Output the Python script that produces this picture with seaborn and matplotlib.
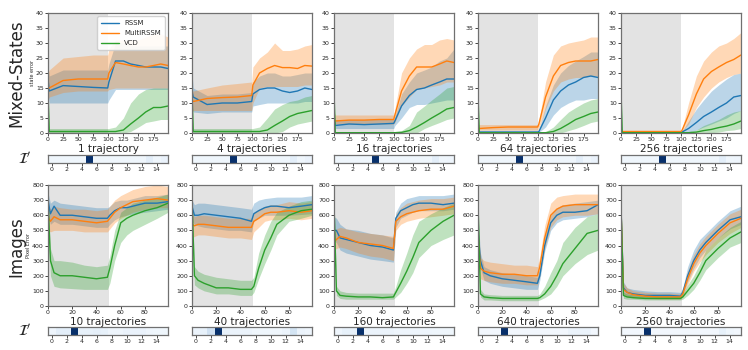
import numpy as np
import pandas as pd
import seaborn as sns
import matplotlib.pyplot as plt
from matplotlib.lines import Line2D

# ---- data ----
models = ['RSSM', 'MultiRSSM', 'VCD']
colors = ['#1f77b4', '#ff7f0e', '#2ca02c']

top_titles = ['1 trajectory', '4 trajectories', '16 trajectories', '64 trajectories', '256 trajectories']
bot_titles = ['10 trajectories', '40 trajectories', '160 trajectories', '640 trajectories', '2560 trajectories']

xs_top = [0, 2, 25, 50, 75, 99, 101, 112, 125, 137, 150, 162, 175, 187, 199]
xs_bot = [0, 2, 5, 10, 20, 30, 40, 49, 51, 55, 60, 65, 70, 80, 90, 99]

# Mixed-States (state error), one list per panel
ms_rssm = [
    [18, 14, 15.8, 15.5, 15.2, 15, 17, 24, 24, 23, 22.5, 22, 22, 22, 21.5],
    [14, 12, 9.5, 10, 10, 10.5, 13, 14.5, 15, 15, 14, 13.5, 14, 15, 14.5],
    [5, 2.5, 3, 2.8, 3, 3.2, 4, 9, 12.5, 14.5, 15, 16, 17, 18, 18],
    [1, 0.3, 0.3, 0.3, 0.3, 0.3, 0.5, 5, 11, 14, 16, 17, 18.5, 19, 18.5],
    [0.5, 0.3, 0.3, 0.3, 0.3, 0.3, 0.3, 1.5, 3.5, 5.5, 7, 8.5, 10, 12, 12.5],
]
ms_rssm_lo = [
    [13, 10, 10, 10, 10, 10, 11, 14.5, 14.5, 14.5, 14.5, 14.5, 14.5, 14.5, 14.5],
    [8, 7, 6.5, 7, 7, 7, 9, 9.5, 10, 10, 10, 10, 10, 10.5, 10.5],
    [3, 1.5, 1.5, 1.5, 1.5, 1.5, 2.5, 5, 8.5, 9.5, 9.5, 10, 10.5, 11, 11],
    [0.2, 0.1, 0.1, 0.1, 0.1, 0.1, 0.2, 2, 6, 8.5, 10, 11, 11, 11.5, 11.5],
    [0, 0.1, 0.1, 0.1, 0.1, 0.1, 0.1, 0.3, 1, 2, 3, 4, 5, 6.5, 7.5],
]
ms_rssm_hi = [
    [22, 19, 21, 21, 21, 21, 23, 30, 30, 29, 29, 29, 29, 29, 29],
    [20, 15, 12.5, 13, 13, 13.5, 17, 19, 20, 20, 19, 19, 19.5, 20, 20],
    [8, 4.5, 4.5, 4.5, 4.5, 4.5, 5.5, 13, 17, 20, 21, 22, 24, 25, 28],
    [2, 0.8, 0.8, 0.8, 0.8, 0.8, 1, 9, 16, 20, 22.5, 24, 25.5, 27, 27],
    [1, 0.5, 0.5, 0.5, 0.5, 0.5, 0.5, 4, 8, 11, 14, 16, 18, 19.5, 20],
]
ms_multi = [
    [15, 15, 17.5, 18, 18, 18, 20, 23.5, 23, 22.5, 22, 22, 22.5, 23, 22.5],
    [11, 10.5, 11.5, 11.8, 12, 12.5, 16, 20, 21.5, 22.5, 21.8, 21.8, 21.5, 22.5, 22.3],
    [5, 4, 4.3, 4.3, 4.5, 4.5, 6, 14, 19, 22, 22, 22, 23, 24, 23.5],
    [2, 1.5, 1.8, 2, 2, 2, 3, 12, 19, 22.5, 23.5, 24, 24, 24, 24.5],
    [0.5, 0.5, 0.5, 0.5, 0.5, 0.5, 0.8, 6, 13, 18, 20.5, 22, 23.5, 24.5, 26],
]
ms_multi_lo = [
    [11, 12, 13.5, 14, 14, 14, 14.5, 15, 15, 15, 15, 15, 15, 15, 15],
    [7, 7.5, 7.5, 7.5, 7.5, 7.5, 10, 15, 15.5, 15.5, 15.5, 15.5, 15.5, 16, 16],
    [3, 3, 3, 3, 3, 3, 3.5, 9, 12, 14.5, 15, 15.5, 16, 17, 17],
    [1, 1, 1, 1, 1, 1, 1.5, 8, 14, 17, 18, 18.5, 18.5, 19, 19],
    [0.2, 0.3, 0.3, 0.3, 0.3, 0.3, 0.4, 3, 8.5, 12, 15, 17, 18.5, 19.5, 20],
]
ms_multi_hi = [
    [20, 21, 25, 25.5, 26, 26, 28, 31, 31, 31, 31, 32, 33, 33, 32],
    [14, 14, 15, 16, 16.5, 17, 22, 25, 27, 30, 27.5, 27.5, 28, 29, 29.5],
    [7, 6, 6, 6, 6, 6, 8, 20, 25, 28, 29.5, 29.5, 31, 31.5, 31],
    [3, 2.8, 2.8, 2.8, 2.8, 2.8, 4, 17, 26, 29, 30, 30.5, 31, 32, 32],
    [1, 0.8, 0.8, 0.8, 0.8, 0.8, 1.2, 10, 19, 24, 27, 29, 30, 31.5, 33.5],
]
ms_vcd = [
    [14, 0.5, 0.5, 0.5, 0.5, 0.5, 0.5, 0.5, 1, 3, 5, 7, 8.5, 8.5, 9],
    [13, 0.5, 0.5, 0.5, 0.5, 0.5, 0.5, 0.5, 1, 2.5, 4, 5.5, 6.5, 7, 7.5],
    [14, 0.1, 0.1, 0.1, 0.1, 0.1, 0.1, 0.2, 0.8, 2, 3.5, 5, 6.5, 8, 8.5],
    [13, 0.1, 0.1, 0.1, 0.1, 0.1, 0.1, 0.1, 0.5, 1.5, 3, 4.5, 5.5, 6.5, 7],
    [14, 0.1, 0.1, 0.1, 0.1, 0.1, 0.1, 0.1, 0.3, 0.8, 1.2, 1.8, 2.3, 3, 4],
]
ms_vcd_lo = [
    [0, 0, 0, 0, 0, 0, 0, 0, 0, 0.5, 2, 3.5, 4, 4.5, 4.5],
    [0, 0, 0, 0, 0, 0, 0, 0, 0, 0, 0.5, 2, 3, 3.5, 4],
    [0, 0, 0, 0, 0, 0, 0, 0, 0, 0, 1.5, 2.5, 3.5, 4.5, 5],
    [0, 0, 0, 0, 0, 0, 0, 0, 0, 0, 0.8, 1.5, 2.5, 3.5, 4],
    [0, 0, 0, 0, 0, 0, 0, 0, 0, 0, 0.1, 0.3, 0.8, 1, 1.5],
]
ms_vcd_hi = [
    [14, 1.5, 1.5, 1.5, 1.5, 1.5, 1.5, 2, 5, 10, 13, 14.5, 15, 15, 15],
    [13, 1.5, 1.5, 1.5, 1.5, 1.5, 1.5, 2, 5, 8, 9.5, 10.5, 11, 12, 12.5],
    [14, 0.5, 0.5, 0.5, 0.5, 0.5, 0.5, 0.8, 2.5, 7, 9, 11, 13, 15, 15.5],
    [13, 0.3, 0.3, 0.3, 0.3, 0.3, 0.3, 0.4, 2, 4.5, 7, 8.5, 10, 11, 11.5],
    [14, 0.3, 0.3, 0.3, 0.3, 0.3, 0.3, 0.5, 1, 2.5, 3.5, 4.5, 6, 7, 7.5],
]

# Images (pixel error)
im_rssm = [
    [700, 610, 660, 600, 600, 590, 580, 580, 600, 630, 650, 650, 660, 680, 680, 690],
    [660, 600, 600, 610, 600, 590, 580, 560, 610, 630, 650, 660, 660, 650, 660, 670],
    [500, 500, 450, 440, 420, 400, 390, 370, 580, 630, 650, 670, 680, 680, 670, 680],
    [500, 300, 220, 200, 180, 170, 160, 150, 200, 400, 550, 600, 620, 620, 630, 670],
    [650, 120, 90, 80, 70, 70, 70, 65, 90, 200, 300, 370, 420, 500, 570, 590],
]
im_rssm_lo = [
    [600, 540, 560, 540, 540, 530, 520, 520, 540, 570, 590, 600, 610, 620, 630, 640],
    [560, 540, 530, 520, 510, 500, 500, 490, 560, 580, 600, 600, 600, 600, 605, 610],
    [430, 420, 370, 350, 330, 310, 300, 290, 520, 580, 600, 620, 630, 630, 630, 640],
    [400, 250, 170, 150, 130, 120, 110, 110, 170, 360, 500, 550, 570, 580, 590, 610],
    [550, 80, 65, 60, 55, 55, 55, 50, 70, 160, 250, 320, 370, 450, 510, 540],
]
im_rssm_hi = [
    [750, 680, 700, 680, 670, 660, 650, 650, 660, 690, 700, 700, 710, 730, 730, 740],
    [700, 670, 680, 680, 670, 660, 650, 640, 680, 700, 710, 715, 720, 720, 720, 730],
    [590, 580, 540, 510, 500, 480, 470, 450, 620, 680, 710, 720, 730, 730, 730, 740],
    [600, 350, 260, 240, 220, 210, 200, 190, 250, 460, 600, 650, 670, 680, 690, 700],
    [700, 160, 120, 110, 100, 95, 95, 90, 120, 260, 370, 440, 480, 560, 630, 660],
]
im_multi = [
    [590, 560, 590, 570, 570, 560, 550, 560, 580, 620, 650, 670, 690, 700, 710, 700],
    [540, 530, 540, 540, 530, 520, 520, 520, 560, 580, 610, 620, 620, 630, 620, 630],
    [420, 440, 460, 450, 420, 410, 400, 380, 560, 590, 610, 620, 630, 640, 640, 660],
    [480, 250, 230, 220, 210, 210, 200, 200, 260, 450, 600, 640, 660, 670, 670, 670],
    [640, 110, 90, 75, 65, 60, 60, 60, 80, 180, 280, 350, 400, 480, 550, 580],
]
im_multi_lo = [
    [500, 490, 500, 500, 500, 490, 490, 490, 510, 550, 580, 600, 620, 640, 650, 650],
    [450, 460, 470, 470, 460, 450, 450, 440, 490, 520, 560, 570, 570, 580, 570, 580],
    [370, 380, 390, 380, 350, 330, 320, 300, 500, 540, 560, 570, 580, 590, 600, 610],
    [400, 180, 170, 160, 150, 150, 140, 140, 200, 380, 520, 570, 590, 600, 600, 610],
    [550, 80, 60, 55, 50, 45, 45, 45, 60, 140, 230, 290, 340, 420, 480, 520],
]
im_multi_hi = [
    [660, 640, 660, 650, 640, 640, 630, 640, 660, 700, 730, 750, 770, 790, 800, 790],
    [620, 590, 600, 600, 590, 580, 580, 580, 620, 640, 660, 670, 670, 690, 680, 690],
    [480, 510, 520, 510, 490, 480, 470, 460, 610, 650, 680, 690, 700, 710, 710, 720],
    [550, 320, 300, 290, 280, 270, 270, 260, 330, 530, 680, 720, 730, 740, 740, 740],
    [700, 150, 120, 100, 90, 85, 85, 80, 110, 230, 340, 410, 460, 540, 610, 640],
]
im_vcd = [
    [700, 300, 220, 200, 200, 190, 180, 190, 250, 400, 550, 580, 600, 630, 650, 680],
    [700, 200, 170, 150, 120, 120, 110, 110, 130, 250, 370, 450, 540, 600, 630, 640],
    [680, 100, 70, 65, 60, 60, 55, 60, 90, 150, 230, 320, 420, 500, 560, 600],
    [680, 80, 60, 55, 50, 50, 50, 50, 55, 80, 130, 200, 280, 380, 480, 500],
    [650, 70, 60, 55, 50, 50, 50, 50, 60, 100, 150, 220, 300, 380, 450, 490],
]
im_vcd_lo = [
    [600, 200, 130, 120, 115, 110, 110, 110, 150, 300, 420, 470, 500, 540, 580, 620],
    [600, 140, 120, 100, 80, 80, 70, 70, 90, 180, 280, 370, 470, 560, 580, 600],
    [600, 70, 50, 45, 45, 45, 45, 45, 60, 90, 150, 220, 320, 400, 440, 470],
    [600, 60, 40, 40, 35, 35, 35, 35, 40, 55, 80, 130, 200, 280, 340, 370],
    [550, 50, 45, 45, 40, 40, 40, 40, 45, 70, 110, 170, 240, 320, 390, 420],
]
im_vcd_hi = [
    [750, 380, 300, 300, 290, 270, 260, 270, 330, 500, 620, 650, 680, 700, 720, 740],
    [750, 260, 230, 210, 190, 180, 170, 170, 190, 350, 470, 560, 620, 660, 690, 700],
    [730, 130, 100, 90, 85, 85, 85, 85, 130, 240, 350, 470, 560, 610, 650, 680],
    [730, 110, 80, 75, 70, 70, 70, 70, 80, 130, 220, 300, 420, 520, 590, 610],
    [700, 90, 80, 75, 70, 70, 70, 70, 80, 140, 200, 280, 370, 450, 520, 560],
]

# I' strips (16 cells each)
strip_top = [
    [0.04, 0.04, 0.04, 0.04, 0.04, 1.0, 0.04, 0.04, 0.04, 0.04, 0.04, 0.04, 0.04, 0.10, 0.04, 0.07],
    [0.04, 0.04, 0.04, 0.04, 0.04, 1.0, 0.04, 0.04, 0.04, 0.04, 0.04, 0.04, 0.04, 0.10, 0.04, 0.07],
    [0.04, 0.04, 0.04, 0.04, 0.04, 1.0, 0.04, 0.04, 0.04, 0.04, 0.04, 0.04, 0.04, 0.10, 0.04, 0.05],
    [0.04, 0.04, 0.04, 0.04, 0.04, 1.0, 0.04, 0.04, 0.04, 0.04, 0.04, 0.04, 0.04, 0.10, 0.04, 0.07],
    [0.04, 0.04, 0.04, 0.04, 0.04, 1.0, 0.04, 0.04, 0.04, 0.04, 0.04, 0.04, 0.04, 0.10, 0.04, 0.05],
]
strip_bot = [
    [0.05, 0.10, 0.10, 1.0, 0.08, 0.08, 0.09, 0.08, 0.05, 0.05, 0.07, 0.07, 0.07, 0.05, 0.04, 0.04],
    [0.06, 0.08, 0.20, 1.0, 0.08, 0.06, 0.06, 0.06, 0.04, 0.04, 0.04, 0.04, 0.06, 0.18, 0.06, 0.05],
    [0.05, 0.08, 0.08, 1.0, 0.06, 0.06, 0.06, 0.06, 0.05, 0.05, 0.05, 0.05, 0.05, 0.04, 0.04, 0.04],
    [0.03, 0.03, 0.03, 1.0, 0.03, 0.03, 0.03, 0.03, 0.03, 0.03, 0.03, 0.03, 0.06, 0.06, 0.06, 0.03],
    [0.03, 0.03, 0.03, 1.0, 0.03, 0.03, 0.03, 0.03, 0.03, 0.03, 0.03, 0.03, 0.03, 0.08, 0.04, 0.03],
]

sns.set_style("ticks")
plt.rcParams['font.family'] = ['DejaVu Sans']

W, H = 748.0, 350.0
lefts = [48, 192, 334, 478, 621]
spine_col = '#707070'


def style_spines(ax):
    for s in ax.spines.values():
        s.set_visible(True)
        s.set_color(spine_col)
        s.set_linewidth(0.9)


def draw_panel(ax, xs, means, los, his, i, span_end, xmax, ymax, xticks, yticks):
    ax.axvspan(0, span_end, color='#e3e3e3', lw=0, zorder=0)
    rows = []
    for m, vals in zip(models, means):
        for x, v in zip(xs, vals[i]):
            rows.append({'step': x, 'error': v, 'model': m})
    df = pd.DataFrame(rows)
    for c, lo, hi in zip(colors, los, his):
        ax.fill_between(xs, lo[i], hi[i], color=c, alpha=0.3, lw=0, zorder=1)
    sns.lineplot(data=df, x='step', y='error', hue='model', hue_order=models,
                 palette=colors, linewidth=1, legend=False, ax=ax, zorder=2)
    ax.set_xlim(0, xmax)
    ax.set_ylim(0, ymax)
    ax.set_xticks(xticks)
    ax.set_yticks(yticks)
    ax.tick_params(labelsize=4.5, length=2, width=0.6, pad=1)
    ax.set_ylabel('')
    style_spines(ax)


def draw_strip(sax, vals):
    sns.heatmap(np.array([vals]), ax=sax, cmap='Blues', vmin=0, vmax=1, cbar=False,
                xticklabels=False, yticklabels=False)
    sax.set_xticks(np.arange(0, 16, 2) + 0.5)
    sax.set_xticklabels([str(k) for k in range(0, 16, 2)], rotation=0)
    sax.tick_params(axis='x', labelsize=4.5, length=2, width=0.6, pad=1)
    sax.set_yticks([])
    style_spines(sax)


fig = plt.figure(figsize=(7.48, 3.5), dpi=100)

for i in range(5):
    # top row: Mixed-States
    ax = fig.add_axes([lefts[i] / W, 1 - 133 / H, 120 / W, 120 / H])
    draw_panel(ax, xs_top, [ms_rssm, ms_multi, ms_vcd], [ms_rssm_lo, ms_multi_lo, ms_vcd_lo],
               [ms_rssm_hi, ms_multi_hi, ms_vcd_hi], i, 100, 199, 40,
               [0, 25, 50, 75, 100, 125, 150, 175], range(0, 41, 5))
    ax.set_xlabel(top_titles[i], fontsize=7.5, labelpad=1)
    if i == 0:
        ax.set_ylabel('state error', fontsize=3.5, labelpad=1)
        handles = [Line2D([], [], color=c, lw=1) for c in colors]
        ax.legend(handles, models, loc='upper right', fontsize=5, frameon=True,
                  handlelength=2.6, borderpad=0.5, labelspacing=0.6, framealpha=0.9)
    sax = fig.add_axes([lefts[i] / W, 1 - 163 / H, 120 / W, 8 / H])
    draw_strip(sax, strip_top[i])

    # bottom row: Images
    ax = fig.add_axes([lefts[i] / W, 1 - 306 / H, 120 / W, 121 / H])
    draw_panel(ax, xs_bot, [im_rssm, im_multi, im_vcd], [im_rssm_lo, im_multi_lo, im_vcd_lo],
               [im_rssm_hi, im_multi_hi, im_vcd_hi], i, 50, 99, 800,
               [0, 20, 40, 60, 80], range(0, 801, 100))
    ax.set_xlabel(bot_titles[i], fontsize=7.5, labelpad=1)
    if i == 0:
        ax.set_ylabel('Pixel Error', fontsize=3.5, labelpad=1)
    sax = fig.add_axes([lefts[i] / W, 1 - 335 / H, 120 / W, 8 / H])
    draw_strip(sax, strip_bot[i])

fig.text(16 / W, 1 - 73 / H, 'Mixed-States', rotation=90, fontsize=12, ha='center', va='center')
fig.text(16 / W, 1 - 247 / H, 'Images', rotation=90, fontsize=12, ha='center', va='center')
fig.text(25 / W, 1 - 159 / H, r"$\mathcal{I}'$", fontsize=11, ha='center', va='center')
fig.text(25 / W, 1 - 331 / H, r"$\mathcal{I}'$", fontsize=11, ha='center', va='center')

fig.savefig('out.png', dpi=100)
